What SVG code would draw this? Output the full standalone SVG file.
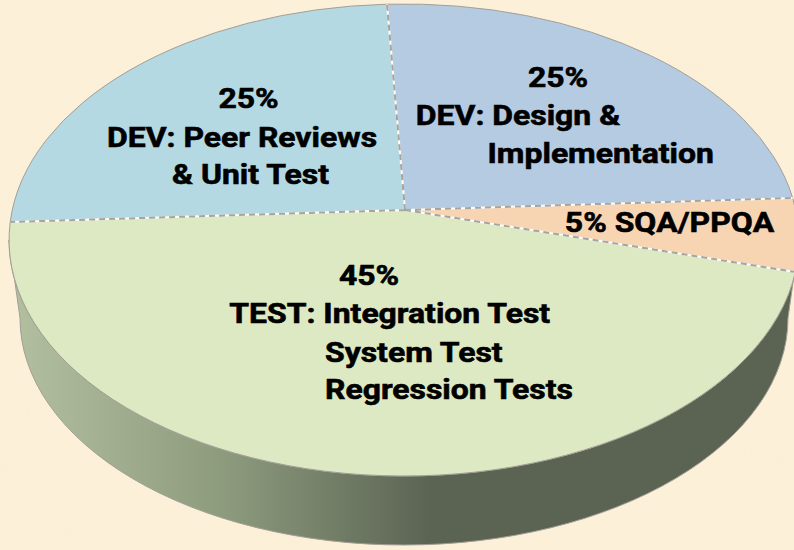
<svg xmlns="http://www.w3.org/2000/svg" width="794" height="550" viewBox="0 0 794 550">
  <defs>
    <filter id="parch" x="0" y="0" width="100%" height="100%">
      <feTurbulence type="fractalNoise" baseFrequency="0.012 0.02" numOctaves="3" seed="7" result="n"/>
      <feColorMatrix in="n" type="matrix" values="0 0 0 0 0.93  0 0 0 0 0.83  0 0 0 0 0.62  0 0 0 1.6 -0.75"/>
    </filter>
    <linearGradient id="sideGrad" gradientUnits="userSpaceOnUse" x1="10" y1="0" x2="430" y2="0">
      <stop offset="0" stop-color="#b3c0a0"/>
      <stop offset="0.5" stop-color="#8e9c7e"/>
      <stop offset="1" stop-color="#5b6453"/>
    </linearGradient>
    <style>
      .edge { stroke: #a29f96; stroke-width: 1; }
      .rad { fill: none; stroke: #ffffff; stroke-width: 2; }
      .radd { fill: none; stroke: #a6a49c; stroke-width: 2; stroke-dasharray: 6 4; }
      .lbl { font-family: Roboto, "Liberation Sans", sans-serif; font-weight: bold; font-size: 28px; fill: #000000; stroke: #000000; stroke-width: 0.6px; }
      .mid { text-anchor: middle; }
    </style>
  </defs>

  <rect x="0" y="0" width="794" height="550" fill="#fdf0d9"/>
  <rect x="0" y="0" width="794" height="550" filter="url(#parch)" opacity="0.35"/>

  <g id="pie-side">
    <path d="M9,240 A395,236 0 0 0 404,476 A395,236 0 0 0 799,240 L788,318 A384,227 0 0 1 404,545 A384,227 0 0 1 20,318 Z" fill="url(#sideGrad)" class="edge"/>
  </g>

  <g id="slice-peer-reviews">
    <path d="M405,210 L10.2,222 A395,236 0 0 1 387,4.2 Z" fill="#b4d9e2" class="edge"/>
    <text class="lbl mid" transform="translate(248.5 108) scale(1.14 1)">25%</text>
    <text class="lbl mid" transform="translate(242 147) scale(1.14 1)">DEV: Peer Reviews</text>
    <text class="lbl mid" transform="translate(250.5 184) scale(1.14 1)">&amp; Unit Test</text>
  </g>

  <g id="slice-design">
    <path d="M405,210 L387,4.2 A395,236 0 0 1 792.7,198 Z" fill="#b4cbe2" class="edge"/>
    <text class="lbl mid" transform="translate(558 87) scale(1.14 1)">25%</text>
    <text class="lbl mid" transform="translate(518 125) scale(1.14 1)">DEV: Design &amp;</text>
    <text class="lbl mid" transform="translate(600.7 163) scale(1.14 1)">Implementation</text>
  </g>

  <g id="slice-sqa">
    <path d="M405,210 L792.7,198 A395,236 0 0 1 795.4,272 Z" fill="#f8d5b2" class="edge"/>
    <text class="lbl mid" transform="translate(669.5 231.5) scale(1.14 1)">5% SQA/PPQA</text>
  </g>

  <g id="slice-test">
    <path d="M405,210 L795.4,272 A395,236 0 0 1 10.2,222 Z" fill="#dce9c2" class="edge"/>
    <text class="lbl mid" transform="translate(369 285) scale(1.14 1)">45%</text>
    <text class="lbl" transform="translate(229.3 323) scale(1.14 1)">TEST: Integration Test</text>
    <text class="lbl" transform="translate(325 361.5) scale(1.14 1)">System Test</text>
    <text class="lbl" transform="translate(325 399) scale(1.14 1)">Regression Tests</text>
  </g>

  <g id="connectors">
    <path class="rad" d="M405,210 L10.2,222 M405,210 L387,4.2 M405,210 L792.7,198 M405,210 L795.4,272"/>
    <path class="radd" d="M405,210 L10.2,222 M405,210 L387,4.2 M405,210 L792.7,198 M405,210 L795.4,272"/>
  </g>
</svg>
